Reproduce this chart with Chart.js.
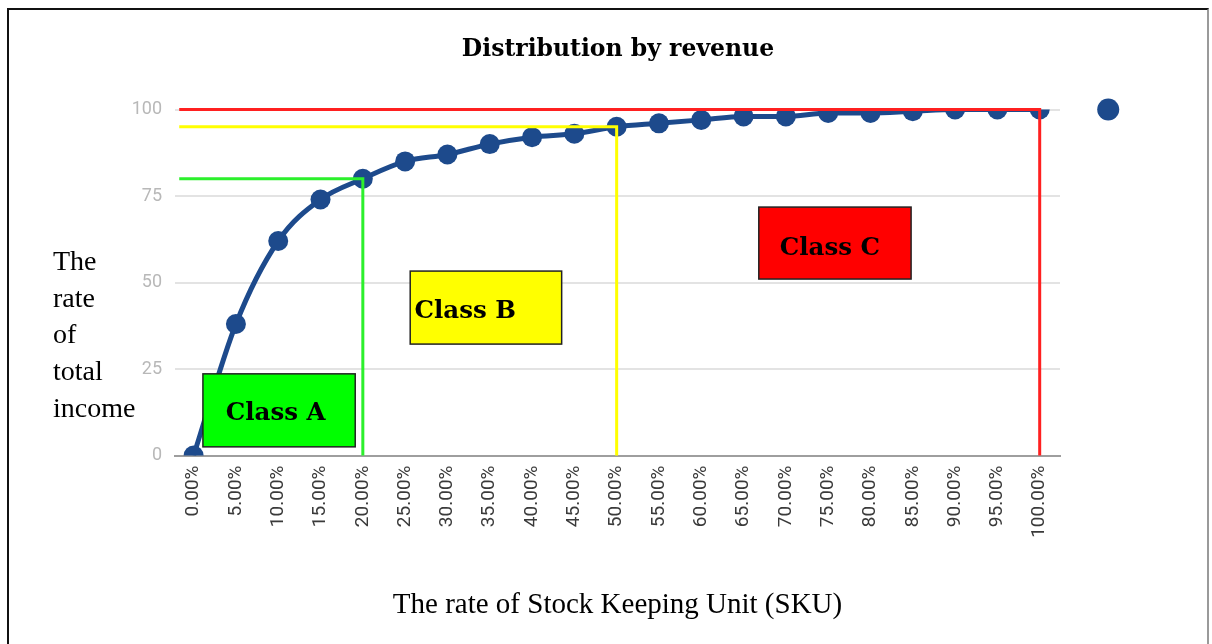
<!DOCTYPE html>
<html>
<head>
<meta charset="utf-8">
<title>Distribution by revenue</title>
<script src="https://cdn.jsdelivr.net/npm/chart.js@4.4.0/dist/chart.umd.min.js"></script>
<style>
    body { margin: 0; background: #fff; }
    #wrap { position: relative; width: 1212px; height: 644px; overflow: hidden; }
    #frame {
        position: absolute; left: 7px; top: 8px; width: 1198px; height: 700px;
        border-top: 2px solid #111; border-left: 2px solid #111; border-right: 2px solid #9a9a9a;
        pointer-events: none;
    }
    #chartTitle {
        position: absolute; left: 0; width: 1236px; top: 34px;
        text-align: center; font: bold 23.5px "DejaVu Serif", serif; line-height: 28px; color: #000;
    }
    #yTitle {
        position: absolute; left: 53px; top: 243px;
        font: 28px "Liberation Serif", serif; line-height: 36.7px; color: #000;
    }
</style>
</head>
<body>
<div id="wrap">
    <canvas id="abcChart" width="1212" height="644"></canvas>
    <div id="chartTitle">Distribution by revenue</div>
    <div id="yTitle">The<br>rate<br>of<br>total<br>income</div>
    <div id="frame"></div>
</div>
<script>
const skuRates = [0, 5, 10, 15, 20, 25, 30, 35, 40, 45, 50, 55, 60, 65, 70, 75, 80, 85, 90, 95, 100];
const revenueShare = [0, 38, 62, 74, 80, 85, 87, 90, 92, 93, 95, 96, 97, 98, 98, 99, 99, 99.5, 100, 100, 100];
const legendDotRate = [108.1];
const legendDotShare = [100];
const yTicks = [0, 25, 50, 75, 100];

const classNames = ['Class A', 'Class B', 'Class C'];
const classColors = ['#00ff00', '#ffff00', '#ff0000'];
const cutoffRates = [20, 50, 100];
const cutoffShares = [80, 95, 100];
const cutoffColors = ['#2cf02c', '#ffff00', '#ff2020'];

// label boxes, in axis units
const classBoxes = [
    { x0: 1.1, x1: 19.1, y0: 2.5, y1: 23.6, tx: 9.7, ty: 12.0 },
    { x0: 25.6, x1: 43.5, y0: 32.2, y1: 53.3, tx: 32.1, ty: 41.5 },
    { x0: 66.8, x1: 84.8, y0: 51.0, y1: 71.8, tx: 75.2, ty: 59.7 }
];
const lineStart = -1.7;

const classBoxPlugin = {
    id: 'classBoxes',
    afterDatasetsDraw(chart) {
        const { ctx, scales: { x, y } } = chart;
        ctx.save();
        classBoxes.forEach((b, i) => {
            const left = x.getPixelForValue(b.x0);
            const right = x.getPixelForValue(b.x1);
            const top = y.getPixelForValue(b.y1);
            const bottom = y.getPixelForValue(b.y0);
            ctx.fillStyle = classColors[i];
            ctx.fillRect(left, top, right - left, bottom - top);
            ctx.strokeStyle = '#222';
            ctx.lineWidth = 1.5;
            ctx.strokeRect(left, top, right - left, bottom - top);
            ctx.fillStyle = '#000';
            ctx.font = 'bold 24.5px "DejaVu Serif"';
            ctx.textAlign = 'center';
            ctx.textBaseline = 'middle';
            ctx.fillText(classNames[i], x.getPixelForValue(b.tx), y.getPixelForValue(b.ty));
        });
        ctx.restore();
    }
};

const cutoffSets = cutoffRates.map((rate, i) => ({
    label: classNames[i] + ' cutoff',
    data: [
        { x: lineStart, y: cutoffShares[i] },
        { x: rate, y: cutoffShares[i] },
        { x: rate, y: 0 }
    ],
    borderColor: cutoffColors[i],
    borderWidth: 3,
    pointRadius: 0,
    tension: 0,
    clip: false,
    order: 1
}));

const ctx = document.getElementById('abcChart').getContext('2d');

new Chart(ctx, {
    type: 'line',
    data: {
        datasets: [
            {
                label: 'Revenue',
                data: skuRates.map((r, i) => ({ x: r, y: revenueShare[i] })),
                borderColor: '#1d4a8c',
                backgroundColor: '#1d4a8c',
                borderWidth: 5,
                pointRadius: 10,
                pointHoverRadius: 10,
                pointBorderWidth: 0,
                cubicInterpolationMode: 'monotone',
                order: 3
            },
            {
                // lone marker right of the plot (legend symbol in the original).
                // the wide transparent border only widens the in-area margin so it still gets drawn
                type: 'bubble',
                label: 'Legend',
                data: legendDotRate.map((r, i) => ({ x: r, y: legendDotShare[i] })),
                backgroundColor: '#1d4a8c',
                borderColor: 'rgba(0,0,0,0)',
                radius: 11,
                hoverRadius: 0,
                borderWidth: 70,
                clip: false,
                order: 3
            },
            ...cutoffSets
        ]
    },
    options: {
        responsive: false,
        animation: false,
        layout: { padding: { left: 0, top: 109.5, right: 152, bottom: 0 } },
        plugins: {
            legend: { display: false },
            tooltip: { enabled: false },
            title: { display: false }
        },
        scales: {
            x: {
                type: 'linear',
                min: -2.2,
                max: 102.4,
                afterBuildTicks: (scale) => { scale.ticks = skuRates.map(v => ({ value: v })); },
                afterFit: (scale) => { scale.height = 188.5; },
                ticks: {
                    callback: (v) => v.toFixed(2) + '%',
                    autoSkip: false,
                    minRotation: 90,
                    maxRotation: 90,
                    color: '#3a3a3a',
                    font: { family: 'Roboto', size: 19 },
                    padding: 10
                },
                grid: { display: false, drawTicks: false },
                border: { display: true, color: '#9e9e9e', width: 2 },
                title: {
                    display: true,
                    text: 'The rate of Stock Keeping Unit (SKU)',
                    color: '#000',
                    font: { family: 'Liberation Serif', size: 29 },
                    padding: { top: 0, bottom: 21 }
                }
            },
            y: {
                min: 0,
                max: 100,
                afterBuildTicks: (scale) => { scale.ticks = yTicks.map(v => ({ value: v })); },
                afterFit: (scale) => { scale.width = 175; },
                ticks: {
                    color: '#b8b8b8',
                    font: { family: 'Roboto', size: 18 },
                    padding: 13
                },
                grid: { color: '#e3e3e3', lineWidth: 2, drawTicks: false },
                border: { display: false }
            }
        }
    },
    plugins: [classBoxPlugin]
});
</script>
</body>
</html>
